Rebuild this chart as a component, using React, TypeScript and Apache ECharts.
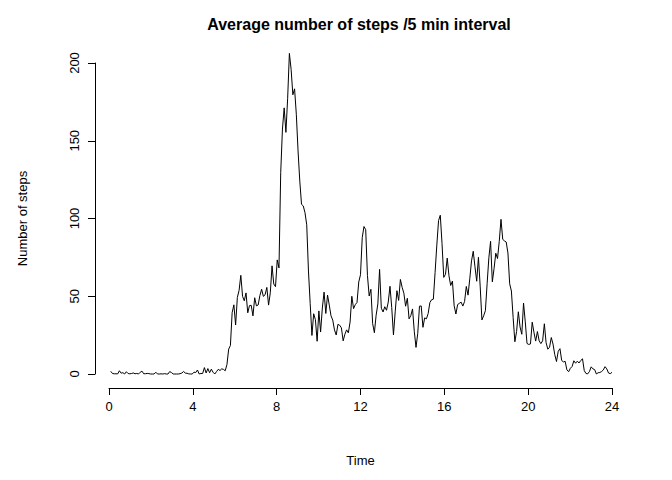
import { useEffect, useRef } from "react";
import * as echarts from "echarts";

// average steps per 5 min interval, 288 intervals
const steps: number[] = [
  1.72, 0.34, 0.13, 0.15, 0.08, 2.09, 0.53, 0.87, 0, 1.47, 0.3, 0.13,
  0.32, 0.68, 0.15, 0.34, 0, 1.11, 1.83, 0.17, 0.17, 0.38, 0.26, 0,
  0, 0, 1.13, 0, 0, 0.13, 0, 0.23, 0, 0, 1.55, 0.94,
  0, 0, 0, 0, 0.21, 0.62, 1.62, 0.58, 0.49, 0.08, 0, 0,
  1.19, 0.94, 2.57, 0, 0.34, 0.36, 4.11, 0.66, 3.49, 0.83, 3.11, 1.11,
  0, 1.57, 3.0, 2.25, 3.32, 2.96, 2.09, 6.06, 16.02, 18.34, 39.45, 44.49,
  31.49, 49.26, 53.77, 63.45, 49.96, 47.08, 52.15, 39.34, 44.02, 44.17, 37.36, 49.04,
  43.81, 44.38, 50.51, 54.51, 49.92, 50.98, 55.68, 44.32, 52.26, 69.55, 57.85, 56.15,
  73.38, 68.21, 129.43, 157.53, 171.15, 155.4, 177.3, 206.17, 195.92, 179.57, 183.4, 167.02,
  143.45, 124.04, 109.11, 108.11, 103.72, 95.96, 66.21, 45.23, 24.79, 38.75, 34.98, 21.06,
  40.57, 26.98, 42.42, 52.66, 38.92, 50.79, 44.28, 37.42, 34.7, 28.34, 25.09, 31.94,
  31.36, 29.68, 21.32, 25.55, 28.38, 26.47, 33.43, 49.98, 42.04, 44.6, 46.04, 59.19,
  63.87, 87.7, 94.85, 92.77, 63.4, 50.17, 54.47, 32.42, 26.53, 37.74, 45.06, 67.28,
  42.34, 39.89, 43.26, 40.98, 46.25, 56.43, 42.75, 25.13, 39.96, 53.55, 47.32, 60.81,
  55.75, 51.96, 43.58, 48.7, 35.47, 37.55, 41.85, 27.51, 17.11, 26.08, 43.62, 43.77,
  30.02, 36.08, 35.49, 38.85, 45.96, 47.75, 48.13, 65.32, 82.91, 98.66, 102.11, 83.96,
  62.13, 64.13, 74.55, 63.17, 56.91, 59.77, 43.87, 38.57, 44.66, 45.45, 46.21, 43.68,
  46.62, 56.3, 50.72, 61.23, 72.72, 78.94, 68.94, 59.66, 75.09, 56.51, 34.77, 37.45,
  40.68, 58.02, 74.7, 85.32, 59.26, 67.77, 77.7, 74.25, 85.34, 99.45, 86.58, 85.6,
  84.87, 77.83, 58.04, 53.36, 36.32, 20.72, 27.4, 40.02, 30.21, 25.55, 45.66, 33.53,
  19.62, 19.02, 19.34, 33.34, 26.81, 21.17, 27.3, 21.34, 19.55, 21.32, 32.3, 20.15,
  15.94, 17.23, 23.45, 19.25, 12.45, 8.02, 14.66, 16.3, 8.68, 7.79, 8.13, 2.62,
  1.45, 3.68, 4.81, 8.51, 6.94, 8.23, 7.08, 8.7, 9.75, 2.21, 0.32, 0.11,
  1.6, 4.6, 3.3, 2.85, 0, 0.83, 0.96, 1.58, 2.6, 4.7, 3.3, 0.64, 0.23, 1.08,
];

const xTicks = [0, 4, 8, 12, 16, 20, 24];
const yTicks = [0, 50, 100, 150, 200];

const font = "Liberation Sans, Arial, sans-serif";

export default function App() {
  const ref = useRef<HTMLDivElement>(null);

  useEffect(() => {
    if (!ref.current) return;
    const chart = echarts.init(ref.current, null, { renderer: "svg" });
    const n = steps.length;
    const data = steps.map((v, i) => [((i + 1) * 24) / n, v]);

    chart.setOption({
      animation: false,
      backgroundColor: "#fff",
      textStyle: { fontFamily: font },
      title: {
        text: "Average number of steps /5 min interval",
        left: 346,
        textAlign: "center",
        top: 3,
        textStyle: { fontSize: 16, fontWeight: "bold", color: "#000", fontFamily: font },
      },
      grid: { left: 86, right: 52, top: 55, bottom: 83 },
      xAxis: {
        type: "value",
        min: xTicks[0],
        max: xTicks[xTicks.length - 1],
        interval: 4,
        offset: 14,
        name: "Time",
        nameLocation: "middle",
        nameGap: 66,
        nameTextStyle: { fontSize: 13, color: "#000", fontFamily: font },
        axisLine: { show: true, onZero: false, lineStyle: { color: "#000" } },
        axisTick: { show: true, length: 7, lineStyle: { color: "#000" } },
        axisLabel: { fontSize: 13, color: "#000", margin: 12, fontFamily: font },
        splitLine: { show: false },
      },
      yAxis: {
        type: "value",
        min: yTicks[0],
        max: yTicks[yTicks.length - 1],
        interval: 50,
        offset: 14,
        name: "Number of steps",
        nameLocation: "middle",
        nameGap: 66,
        nameTextStyle: { fontSize: 13, color: "#000", fontFamily: font },
        axisLine: { show: true, onZero: false, lineStyle: { color: "#000" } },
        axisTick: { show: true, length: 7, lineStyle: { color: "#000" } },
        axisLabel: { fontSize: 13, color: "#000", rotate: 90, margin: 14, fontFamily: font },
        splitLine: { show: false },
      },
      series: [
        {
          type: "line",
          data,
          showSymbol: false,
          clip: false,
          lineStyle: { color: "#000", width: 1 },
        },
      ],
    });

    return () => chart.dispose();
  }, []);

  return <div ref={ref} style={{ width: 656, height: 464 }} />;
}
